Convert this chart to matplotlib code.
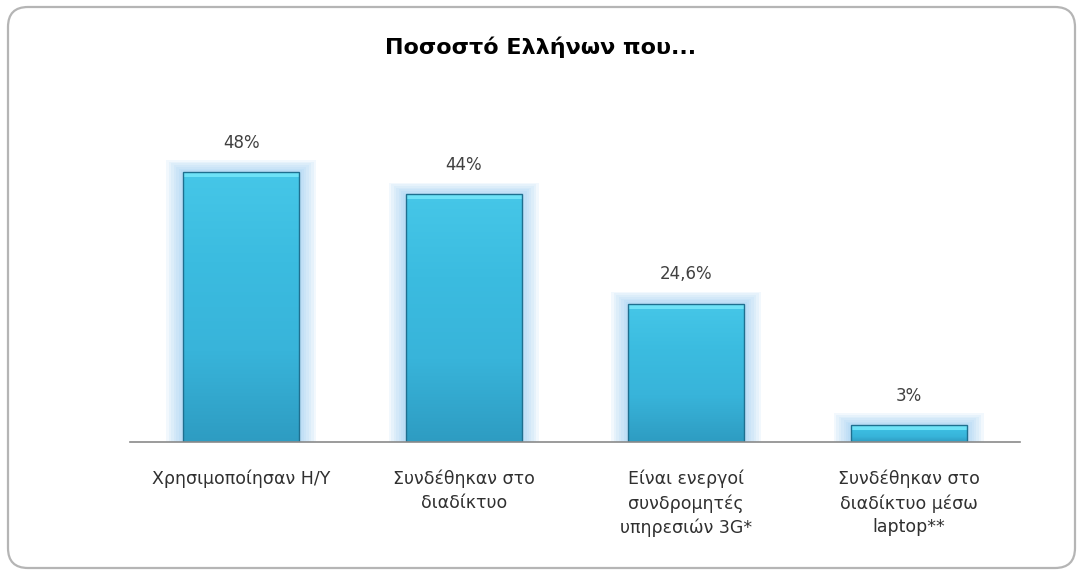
import numpy as np
import matplotlib.pyplot as plt
from matplotlib.patches import FancyBboxPatch
from matplotlib.colors import LinearSegmentedColormap

plt.rcParams['font.family'] = ['DejaVu Sans']

categories = ['Χρησιμοποίησαν Η/Υ',
              'Συνδέθηκαν στο\nδιαδίκτυο',
              'Είναι ενεργοί\nσυνδρομητές\nυπηρεσιών 3G*',
              'Συνδέθηκαν στο\nδιαδίκτυο μέσω\nlaptop**']
values = [48, 44, 24.6, 3]
value_labels = ['48%', '44%', '24,6%', '3%']

fig = plt.figure(figsize=(10.81, 5.73), dpi=100)

# rounded frame around the chart
frame = FancyBboxPatch((0.08, 0.05), 10.67, 5.61,
                       boxstyle='round,pad=0,rounding_size=0.2',
                       transform=fig.dpi_scale_trans, facecolor='white',
                       edgecolor='#b5b5b5', linewidth=1.6, zorder=-1)
fig.patches.append(frame)

ax = fig.add_axes([0.1203, 0.2286, 0.8233, 0.5794])
ax.patch.set_alpha(0)

x = np.arange(len(values))
width = 0.52

# soft glow behind the bars
for k in range(7):
    grow = 0.011 * (k + 1)
    ext = 0.3 * (k + 1)
    ax.bar(x, np.array(values) + 2 * ext, width=width + 2 * grow,
           bottom=-ext, color='#86c4f0', alpha=0.10, linewidth=0,
           zorder=1)

cmap = LinearSegmentedColormap.from_list('bar', ['#2e9cc2', '#38b4da', '#3bbce0', '#46c7e8'])
bars = ax.bar(x, values, width=width, color='none', edgecolor='#1f6f8f',
              linewidth=1.0, zorder=3)
grad = np.linspace(0, 1, 256).reshape(-1, 1)
for b in bars:
    x0, y0 = b.get_x(), b.get_y()
    im = ax.imshow(grad, cmap=cmap, origin='lower', aspect='auto',
                   extent=[x0, x0 + b.get_width(), y0, y0 + b.get_height()],
                   zorder=2)
    im.set_clip_path(b)
    # light top rim
    rim = min(0.9, b.get_height() * 0.3)
    ax.bar(x0 + b.get_width() / 2, rim, width=b.get_width(),
           bottom=b.get_height() - rim, color='#6ee2f7', linewidth=0, zorder=2.5)
ax.set_xlim(-0.5, 3.5)
ax.set_ylim(0, 59)

for xi, v, lab in zip(x, values, value_labels):
    ax.annotate(lab, (xi, v), xytext=(0, 21), textcoords='offset points',
                ha='center', va='center', fontsize=12, color='#404040')

for s in ['top', 'right', 'left']:
    ax.spines[s].set_visible(False)
ax.spines['bottom'].set_color('#8a8a8a')
ax.spines['bottom'].set_linewidth(1.2)
ax.spines['bottom'].set_zorder(4)
ax.set_yticks([])
ax.set_xticks(x)
ax.set_xticklabels(categories, fontsize=12.5, color='#303030', linespacing=1.4)
ax.tick_params(axis='x', length=0, pad=20)

fig.text(0.5, 0.918, 'Ποσοστό Ελλήνων που...', ha='center', va='center',
         fontsize=16, fontweight='bold', color='black')

fig.savefig('out.png', dpi=100)
